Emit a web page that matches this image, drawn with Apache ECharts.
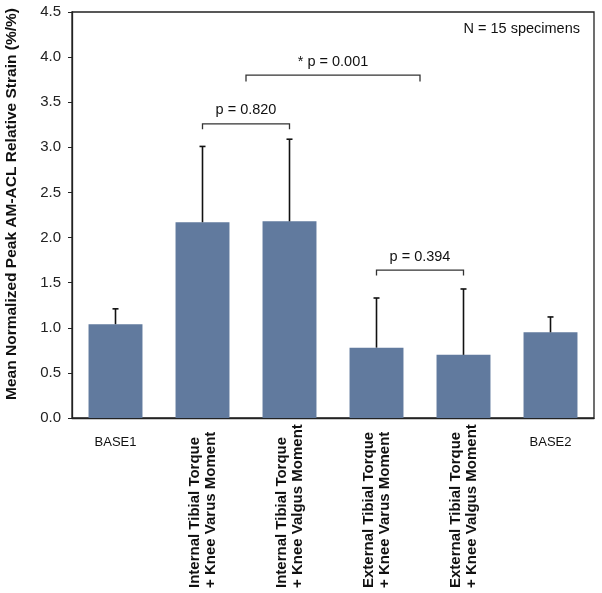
<!DOCTYPE html>
<html>
<head>
<meta charset="utf-8">
<script src="https://cdn.jsdelivr.net/npm/echarts@6/dist/echarts.min.js"></script>
<style>html,body{margin:0;padding:0;background:#fff}#c{width:602px;height:593px}</style>
</head>
<body>
<div id="c"></div>
<script>
var categories = ['BASE1', 'Internal Tibial Torque\n+ Knee Varus Moment', 'Internal Tibial Torque\n+ Knee Valgus Moment', 'External Tibial Torque\n+ Knee Varus Moment', 'External Tibial Torque\n+ Knee Valgus Moment', 'BASE2'];
var rotatedLabel = [false, true, true, true, true, false];
var means = [1.04, 2.17, 2.18, 0.78, 0.70, 0.95];
var errorTops = [1.21, 3.01, 3.09, 1.33, 1.43, 1.12];
var yTicks = [0, 0.5, 1.0, 1.5, 2.0, 2.5, 3.0, 3.5, 4.0, 4.5];
// brackets
var bracketFrom = [1, 1.5, 3];
var bracketTo = [2, 3.5, 4];
var bracketY = [3.26, 3.80, 1.64];
var bracketTickEnd = [3.20, 3.73, 1.58];
var bracketLabels = ['p = 0.820', '* p = 0.001', 'p = 0.394'];
var noteText = 'N = 15 specimens';

var FONT = 'Arial, "Liberation Sans", sans-serif';
var chart = echarts.init(document.getElementById('c'));

function catX(api, c, y) {
  var lo = Math.floor(c), hi = Math.ceil(c);
  var p1 = api.coord([lo, y]), p2 = api.coord([hi, y]);
  var t = c - lo;
  return [p1[0] + (p2[0] - p1[0]) * t, p1[1]];
}

var errData = means.map(function (m, i) { return [i, m, errorTops[i]]; });
var brData = bracketFrom.map(function (f, i) { return [f, bracketTo[i], bracketY[i], bracketTickEnd[i], i]; });

chart.setOption({
  animation: false,
  backgroundColor: '#fff',
  grid: { left: 72, right: 8, top: 12, bottom: 175, containLabel: false, outerBoundsMode: 'none', show: true, borderColor: '#222', borderWidth: 1.3, backgroundColor: 'transparent' },
  xAxis: [{
    type: 'category', data: categories, boundaryGap: true,
    axisLine: { lineStyle: { color: '#222', width: 1.3 } },
    axisTick: { show: false },
    axisLabel: {
      interval: 0, rotate: 90, margin: 12, fontFamily: FONT, fontSize: 15, fontWeight: 'bold', color: '#111', lineHeight: 16,
      formatter: function (v, i) {
        if (!rotatedLabel[i]) return '';
        return v.split('\n').map(function (s) { return '{l|' + s + '}'; }).join('\n');
      },
      rich: { l: { width: 158, align: 'left', fontFamily: FONT, fontSize: 15, fontWeight: 'bold', color: '#111', lineHeight: 16 } }
    }
  }, {
    type: 'category', data: categories, position: 'bottom', boundaryGap: true,
    axisLine: { show: false }, axisTick: { show: false },
    axisLabel: {
      interval: 0, rotate: 0, margin: 18, fontFamily: FONT, fontSize: 13, color: '#111',
      formatter: function (v, i) { return rotatedLabel[i] ? '' : v; }
    }
  }],
  yAxis: {
    type: 'value', min: 0, max: 4.5, interval: 0.5,
    name: 'Mean Normalized Peak AM-ACL Relative Strain (%/%)',
    nameLocation: 'middle', nameGap: 52,
    nameTextStyle: { fontFamily: FONT, fontSize: 15.5, fontWeight: 'bold', color: '#111', padding: [0, 0, 0, 22] },
    axisLine: { show: true, lineStyle: { color: '#222', width: 1.3 } },
    axisTick: { show: true, inside: false, length: 4, lineStyle: { color: '#222' } },
    splitLine: { show: false },
    axisLabel: {
      fontFamily: FONT, fontSize: 15, color: '#222', margin: 11,
      formatter: function (v) { return yTicks.indexOf(v) >= 0 ? v.toFixed(1) : ''; }
    }
  },
  graphic: [{
    type: 'text', right: 22, top: 21,
    style: { text: noteText, fontFamily: FONT, fontSize: 14.5, fill: '#111' }
  }],
  series: [{
    type: 'bar', data: means, barWidth: '62%',
    itemStyle: { color: '#617a9e' }, z: 2
  }, {
    type: 'custom', data: errData, z: 3,
    renderItem: function (params, api) {
      var x = api.value(0);
      var base = api.coord([x, api.value(1)]);
      var top = api.coord([x, api.value(2)]);
      var s = { stroke: '#111', lineWidth: 1.6 };
      return { type: 'group', children: [
        { type: 'line', shape: { x1: base[0], y1: base[1], x2: top[0], y2: top[1] }, style: s },
        { type: 'line', shape: { x1: top[0] - 3, y1: top[1], x2: top[0] + 3, y2: top[1] }, style: s }
      ]};
    }
  }, {
    type: 'custom', data: brData, z: 3,
    renderItem: function (params, api) {
      var a = catX(api, api.value(0), api.value(2));
      var b = catX(api, api.value(1), api.value(2));
      var e = api.coord([0, api.value(3)]);
      var s = { stroke: '#333', lineWidth: 1.3, fill: null };
      var lbl = bracketLabels[api.value(4)];
      return { type: 'group', children: [
        { type: 'polyline', shape: { points: [[a[0], e[1]], [a[0], a[1]], [b[0], b[1]], [b[0], e[1]]] }, style: s },
        { type: 'text', x: (a[0] + b[0]) / 2, y: a[1] - 6,
          style: { text: lbl, fontFamily: FONT, fontSize: 14.5, fill: '#111', align: 'center', verticalAlign: 'bottom' } }
      ]};
    }
  }]
});
</script>
</body>
</html>
